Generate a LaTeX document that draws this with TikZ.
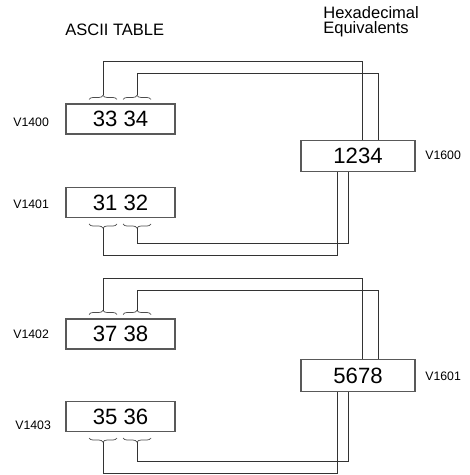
\documentclass[tikz,border=0pt]{standalone}
\usepackage{fontspec}
\setmainfont{Liberation Sans}
\usetikzlibrary{decorations.pathreplacing,calc}

\tikzset{
  ascbox/.style={draw=black!65, line width=0.6pt, minimum width=2.18cm, minimum height=0.6cm, inner sep=0pt, font=\fontsize{12.6}{14}\selectfont},
  hexbox/.style={ascbox, minimum width=2.28cm, minimum height=0.63cm},
  addr/.style={anchor=west, inner sep=0pt, font=\fontsize{7}{8}\selectfont},
  heading/.style={anchor=base west, inner sep=0pt, align=left, font=\fontsize{9.4}{8.6}\selectfont},
  wire/.style={draw=black!80, line width=0.55pt},
  brc/.style={draw=black!70, line width=0.4pt, decorate, decoration={brace, amplitude=2.3pt}},
}

\begin{document}
\begin{tikzpicture}[x=0.02cm, y=-0.02cm]
    \useasboundingbox (0,0) rectangle (469,475);
    % headings
    \node[heading] (asc) at (65,36) {ASCII TABLE};
    \node[heading] (hex) at (323,34) {Hexadecimal\\Equivalents};
    % ascii words and hex results
    \node[ascbox] (b1) at (120.5,119) {33 34};
    \node[ascbox] (b2) at (120.5,202.5) {31 32};
    \node[ascbox] (b3) at (120.5,334) {37 38};
    \node[ascbox] (b4) at (120.5,416.5) {35 36};
    \node[hexbox] (h1) at (358,156) {1234};
    \node[hexbox] (h2) at (358,375.5) {5678};
    \node[addr] (l1) at (13,122.5) {V1400};
    \node[addr] (l2) at (13,204.5) {V1401};
    \node[addr] (l3) at (13,334.5) {V1402};
    \node[addr] (l4) at (15,425) {V1403};
    \node[addr] (l5) at (425,155) {V1600};
    \node[addr] (l6) at (425,376) {V1601};
    % braces over the byte pairs
    \foreach \y in {99.5,314.5}{\draw[brc] (89,\y) -- (117,\y); \draw[brc] (123,\y) -- (151,\y);}
    \foreach \y in {224,438}{\draw[brc] (117,\y) -- (89,\y); \draw[brc] (151,\y) -- (123,\y);}
    \coordinate (t1) at (103,95.5);
    \coordinate (t2) at (137,95.5);
    \coordinate (t3) at (103,228);
    \coordinate (t4) at (137,228);
    \coordinate (t5) at (103,310.5);
    \coordinate (t6) at (137,310.5);
    \coordinate (t7) at (103,442);
    \coordinate (t8) at (137,442);
    % wires
    \draw[wire] (t1) -- ++(0,-34.5) -| ($(h1.north)+(4,0)$);
    \draw[wire] (t2) -- ++(0,-22.5) -| ($(h1.north)+(20,0)$);
    \draw[wire] (t3) -- ++(0,27) -| ($(h1.south)+(-21,0)$);
    \draw[wire] (t4) -- ++(0,15) -| ($(h1.south)+(-10,0)$);
    \draw[wire] (t5) -- ++(0,-32.5) -| ($(h2.north)+(4,0)$);
    \draw[wire] (t6) -- ++(0,-20.5) -| ($(h2.north)+(20,0)$);
    \draw[wire] (t7) -- ++(0,31) -| ($(h2.south)+(-21,0)$);
    \draw[wire] (t8) -- ++(0,19) -| ($(h2.south)+(-10,0)$);
\end{tikzpicture}
\end{document}
